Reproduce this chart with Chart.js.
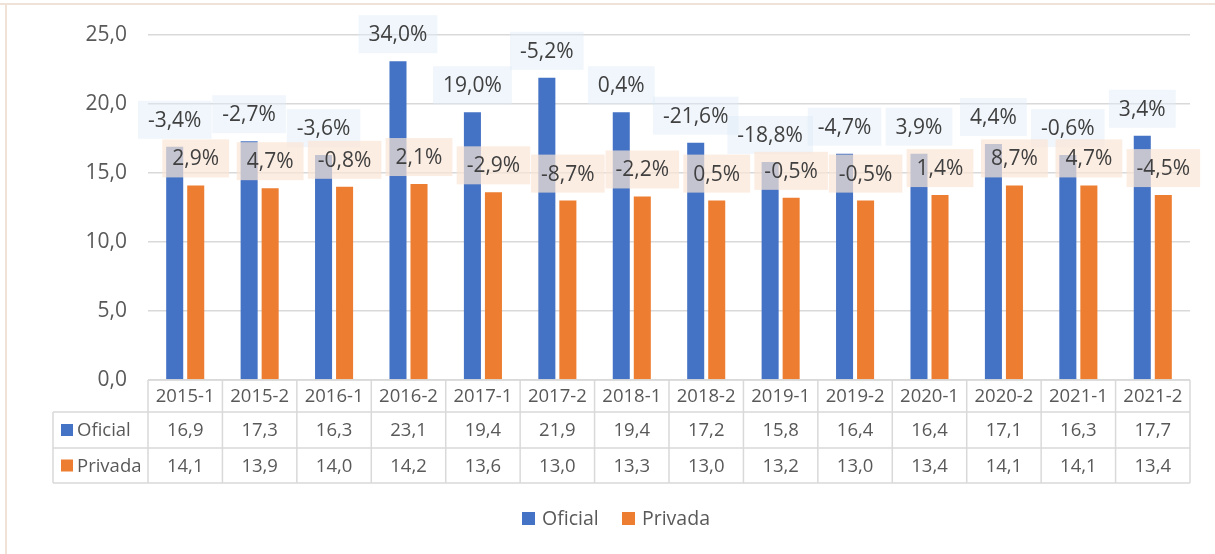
<!DOCTYPE html>
<html>
<head>
<meta charset="utf-8">
<script src="https://cdn.jsdelivr.net/npm/chart.js@4.4.1/dist/chart.umd.min.js"></script>
<style>
  body { margin: 0; background: #fff; }
  #wrap { width: 1215px; height: 554px; }
</style>
</head>
<body>
<div id="wrap"><canvas id="myChart" width="1215" height="554"></canvas></div>
<script>
// data
var categories = ["2015-1", "2015-2", "2016-1", "2016-2", "2017-1", "2017-2", "2018-1",
                  "2018-2", "2019-1", "2019-2", "2020-1", "2020-2", "2021-1", "2021-2"];
var oficial = [16.9, 17.3, 16.3, 23.1, 19.4, 21.9, 19.4, 17.2, 15.8, 16.4, 16.4, 17.1, 16.3, 17.7];
var privada = [14.1, 13.9, 14.0, 14.2, 13.6, 13.0, 13.3, 13.0, 13.2, 13.0, 13.4, 14.1, 14.1, 13.4];
var oficialVar = ["-3,4%", "-2,7%", "-3,6%", "34,0%", "19,0%", "-5,2%", "0,4%",
                  "-21,6%", "-18,8%", "-4,7%", "3,9%", "4,4%", "-0,6%", "3,4%"];
var privadaVar = ["2,9%", "4,7%", "-0,8%", "2,1%", "-2,9%", "-8,7%", "-2,2%",
                  "0,5%", "-0,5%", "-0,5%", "1,4%", "8,7%", "4,7%", "-4,5%"];
var yMin = 0, yMax = 25, yStep = 5;

var FONT = "'Open Sans', 'Noto Sans', sans-serif";
var TXT = "#595959";
var LINE = "#D9D9D9";

function fmt(v) {
  return v.toFixed(1).replace(".", ",");
}

// the labels with the growth rates, with their tinted boxes
var varLabels = {
  id: "varLabels",
  afterDatasetsDraw: function(chart) {
    var ctx = chart.ctx;
    var sets = [
      { texts: oficialVar, fill: "rgba(222,235,247,0.45)" },
      { texts: privadaVar, fill: "rgba(251,229,214,0.7)" }
    ];
    ctx.save();
    ctx.font = "21px " + FONT;
    ctx.textAlign = "center";
    ctx.textBaseline = "middle";
    for (var d = 0; d < sets.length; d++) {
      var meta = chart.getDatasetMeta(d);
      for (var i = 0; i < meta.data.length; i++) {
        var el = meta.data[i];
        var t = sets[d].texts[i];
        var w = ctx.measureText(t).width + 20;
        var h = 38;
        var cy = el.y - 27;
        ctx.fillStyle = sets[d].fill;
        ctx.fillRect(el.x - w / 2, cy - h / 2, w, h);
        ctx.fillStyle = "#404040";
        ctx.fillText(t, el.x, cy + 1);
      }
    }
    ctx.restore();
  }
};

// data table under the plot, legend and the frame
var dataTable = {
  id: "dataTable",
  beforeDraw: function(chart) {
    var ctx = chart.ctx;
    ctx.save();
    ctx.fillStyle = "#F1E2D8";
    ctx.fillRect(0, 3, chart.width, 2);
    ctx.fillRect(5, 3, 2, chart.height - 3);
    ctx.restore();
  },
  afterDraw: function(chart) {
    var ctx = chart.ctx;
    var ca = chart.chartArea;
    var xs = chart.scales.x;
    var n = categories.length;
    var top = ca.bottom, r1 = top + 32, r2 = r1 + 36, r3 = r2 + 35;
    var leftCol = 53;

    ctx.save();
    ctx.strokeStyle = LINE;
    ctx.lineWidth = 1.5;
    ctx.beginPath();
    ctx.moveTo(ca.left, top); ctx.lineTo(ca.right, top);
    [r1, r2, r3].forEach(function(y) {
      ctx.moveTo(leftCol, y); ctx.lineTo(ca.right, y);
    });
    for (var i = 0; i <= n; i++) {
      var bx = xs.getPixelForValue(i - 0.5);
      ctx.moveTo(bx, top); ctx.lineTo(bx, r3);
    }
    ctx.moveTo(leftCol, r1); ctx.lineTo(leftCol, r3);
    ctx.stroke();

    ctx.fillStyle = TXT;
    ctx.font = "18.5px " + FONT;
    ctx.textAlign = "center";
    ctx.textBaseline = "middle";
    for (var j = 0; j < n; j++) {
      var cx = xs.getPixelForValue(j);
      ctx.fillText(categories[j], cx, (top + r1) / 2 + 1);
      ctx.fillText(fmt(oficial[j]), cx, (r1 + r2) / 2 + 1);
      ctx.fillText(fmt(privada[j]), cx, (r2 + r3) / 2 + 1);
    }

    var ds = chart.data.datasets;
    var rows = [(r1 + r2) / 2, (r2 + r3) / 2];
    ctx.textAlign = "left";
    for (var k = 0; k < ds.length; k++) {
      ctx.fillStyle = ds[k].backgroundColor;
      ctx.fillRect(61, rows[k] - 6, 12, 12);
      ctx.fillStyle = TXT;
      ctx.fillText(ds[k].label, 77, rows[k] + 1);
    }

    // legend
    ctx.font = "19.5px " + FONT;
    var lx = [522, 622];
    for (var m = 0; m < ds.length; m++) {
      ctx.fillStyle = ds[m].backgroundColor;
      ctx.fillRect(lx[m], 512, 13, 13);
      ctx.fillStyle = TXT;
      ctx.fillText(ds[m].label, lx[m] + 20, 519);
    }
    ctx.restore();
  }
};

var ctx = document.getElementById("myChart");

var chart = new Chart(ctx, {
  type: "bar",
  data: {
    labels: categories,
    datasets: [
      {
        label: "Oficial",
        data: oficial,
        backgroundColor: "#4472C4",
        categoryPercentage: 0.565,
        barPercentage: 0.81
      },
      {
        label: "Privada",
        data: privada,
        backgroundColor: "#ED7D31",
        categoryPercentage: 0.565,
        barPercentage: 0.81
      }
    ]
  },
  options: {
    responsive: false,
    animation: false,
    layout: { padding: { top: 35, right: 25, left: 0, bottom: 0 } },
    plugins: {
      legend: { display: false },
      tooltip: { enabled: false }
    },
    scales: {
      x: {
        ticks: { display: false },
        grid: { display: false },
        border: { display: false },
        afterFit: function(s) { s.height = 174; }
      },
      y: {
        min: yMin,
        max: yMax,
        ticks: {
          stepSize: yStep,
          padding: 21,
          color: TXT,
          font: { family: FONT, size: 21 },
          callback: function(v) { return fmt(v); }
        },
        grid: { color: LINE, lineWidth: 1.5, drawTicks: false },
        border: { display: false },
        afterFit: function(s) { s.width = 148; }
      }
    }
  },
  plugins: [varLabels, dataTable]
});
</script>
</body>
</html>
